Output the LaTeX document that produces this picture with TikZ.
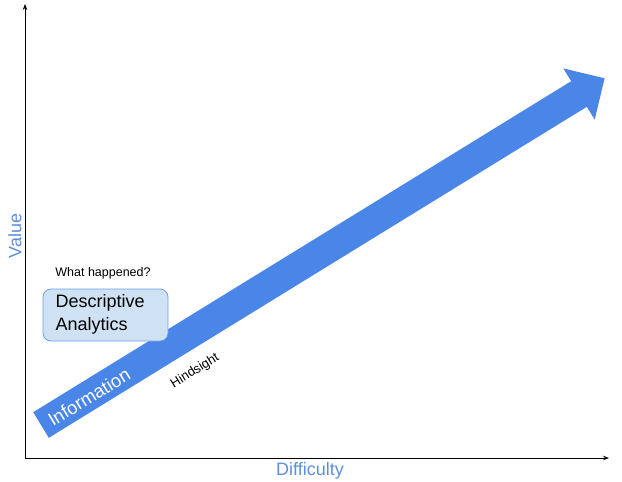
\documentclass[tikz,border=0pt]{standalone}
\usepackage{fontspec}
\setmainfont{Liberation Sans}
\usetikzlibrary{arrows.meta}
\definecolor{arrowblue}{HTML}{4A86E8}
\definecolor{labelblue}{HTML}{5F8FDB}
\definecolor{boxfill}{HTML}{CFE2F3}
\definecolor{boxline}{HTML}{6D9EEB}
\tikzset{
  axisline/.style={line width=1pt, -{Stealth[length=6pt,width=4.5pt]}},
  axislabel/.style={text=labelblue, font=\fontsize{18}{22}\selectfont, inner sep=0pt},
  smalltext/.style={font=\fontsize{12.5}{15}\selectfont, inner sep=0pt},
  catbox/.style={draw=boxline, line width=0.8pt, fill=boxfill, rounded corners=8pt},
}
\begin{document}
\begin{tikzpicture}[x=1pt,y=-1pt]
\useasboundingbox (0,0) rectangle (622,482);
% axes
\coordinate (origin) at (25,458);
\coordinate (ytop) at (25,4);
\coordinate (xend) at (609,458);
\draw[axisline] (origin) -- (ytop);
\draw[axisline] (origin) -- (xend);
\node[axislabel, rotate=90] (value) at (15,236) {Value};
\node[axislabel] (difficulty) at (310,471) {Difficulty};
% big arrow
\fill[arrowblue] (33.2,412.2) -- (571.2,81.2) -- (563.3,68.4) -- (604.6,78.3)
  -- (594.7,119.6) -- (586.8,106.8) -- (48.8,437.8) -- cycle;
\node[text=white, font=\fontsize{18.5}{22}\selectfont, rotate=31.55, inner sep=0pt] (info) at (89,397) {Information};
\node[font=\fontsize{13}{15}\selectfont, inner sep=0pt, rotate=32] (hind) at (195,371) {Hindsight};
% box
\draw[catbox] (43,289) rectangle (168,341);
\node[anchor=north west, align=left, font=\fontsize{18}{23}\selectfont, inner sep=0pt] (desc) at (55.5,294) {Descriptive\\Analytics};
\node[smalltext] (what) at (103,273) {What happened?};
\end{tikzpicture}
\end{document}
